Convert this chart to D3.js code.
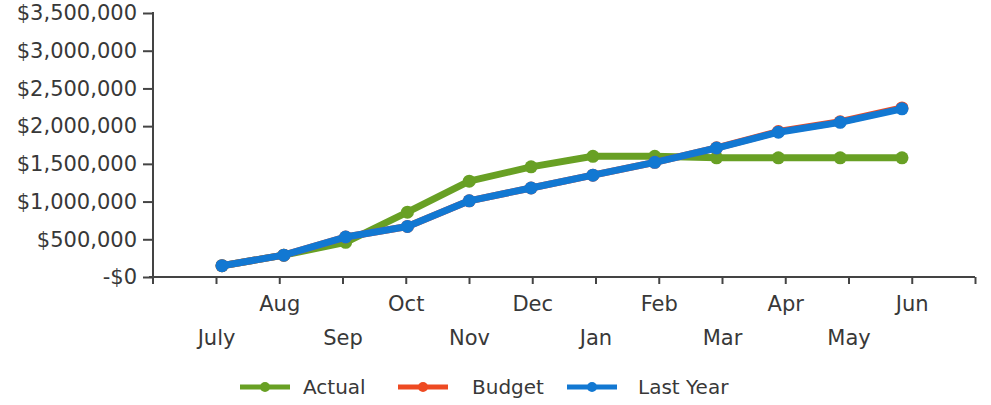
<!DOCTYPE html>
<html>
<head>
<meta charset="utf-8">
<script src="https://cdn.jsdelivr.net/npm/d3@7"></script>
<style>
  html, body { margin: 0; padding: 0; background: #fff; }
  svg { display: block; font-family: "DejaVu Sans", Verdana, sans-serif; }
</style>
</head>
<body>
<div id="chart"></div>
<script>
// Data
const months = ['July', 'Aug', 'Sep', 'Oct', 'Nov', 'Dec', 'Jan', 'Feb', 'Mar', 'Apr', 'May', 'Jun'];
const actual = [150000, 290000, 460000, 860000, 1270000, 1460000, 1600000, 1600000, 1580000, 1580000, 1580000, 1580000];
const budget = [150000, 290000, 530000, 670000, 1010000, 1180000, 1350000, 1520000, 1712000, 1928000, 2058000, 2242000];
const lastYear = [150000, 290000, 530000, 670000, 1010000, 1180000, 1350000, 1520000, 1710000, 1920000, 2050000, 2230000];
const yTicks = [0, 500000, 1000000, 1500000, 2000000, 2500000, 3000000, 3500000];

const series = [
    { name: 'Actual', values: actual, color: '#68a024' },
    { name: 'Budget', values: budget, color: '#ee4a22' },
    { name: 'Last Year', values: lastYear, color: '#1278d2' }
];

const width = 991, height = 405;
const plotLeft = 153, plotRight = 975, plotTop = 13, plotBottom = 277;
const textColor = '#383838';
const axisColor = '#444';
const fontSize = '21px';

const svg = d3.select('#chart').append('svg')
    .attr('width', width)
    .attr('height', height);

const y = d3.scaleLinear().domain([0, 3500000]).range([plotBottom, plotTop]);
// tick slots (one extra slot closes the axis at the right)
const xTick = d3.scalePoint().domain([...months, '']).range([216, plotRight]);
const xPoint = d3.scalePoint().domain(months).range([222, 902]);

// Y axis
const yAxis = d3.axisLeft(y)
    .tickValues(yTicks)
    .tickSize(10)
    .tickSizeOuter(0)
    .tickFormat(d => d === 0 ? '-$0' : '$' + d3.format(',')(d));

const gy = svg.append('g')
    .attr('transform', `translate(${plotLeft},0)`)
    .call(yAxis);
gy.select('.domain').remove();
gy.selectAll('.tick line').attr('stroke', axisColor).attr('stroke-width', 2);
gy.selectAll('.tick text')
    .attr('x', -16)
    .attr('fill', textColor)
    .attr('font-size', fontSize)
    .attr('font-family', '"DejaVu Sans", Verdana, sans-serif');
svg.append('line')
    .attr('x1', plotLeft).attr('x2', plotLeft)
    .attr('y1', plotTop - 1).attr('y2', plotBottom + 7)
    .attr('stroke', axisColor).attr('stroke-width', 2);

// X axis
const xAxis = d3.axisBottom(xTick).tickSize(7).tickSizeOuter(0);
const gx = svg.append('g')
    .attr('transform', `translate(0,${plotBottom})`)
    .call(xAxis);
gx.select('.domain').remove();
gx.selectAll('.tick line').attr('stroke', axisColor).attr('stroke-width', 2);
gx.selectAll('.tick text')
    .attr('fill', textColor)
    .attr('font-size', fontSize)
    .attr('font-family', '"DejaVu Sans", Verdana, sans-serif')
    .attr('dy', null)
    .attr('y', (d, i) => i % 2 === 1 ? 34 : 68);
svg.append('line')
    .attr('x1', plotLeft - 4).attr('x2', plotRight)
    .attr('y1', plotBottom).attr('y2', plotBottom)
    .attr('stroke', axisColor).attr('stroke-width', 2);

// Lines (Budget sits under Last Year)
const line = d3.line()
    .x((d, i) => xPoint(months[i]))
    .y(d => y(d));

series.forEach(s => {
    const g = svg.append('g');
    g.append('path')
        .datum(s.values)
        .attr('fill', 'none')
        .attr('stroke', s.color)
        .attr('stroke-width', 7)
        .attr('stroke-linejoin', 'round')
        .attr('d', line);
    g.selectAll('circle')
        .data(s.values)
        .join('circle')
        .attr('cx', (d, i) => xPoint(months[i]))
        .attr('cy', d => y(d))
        .attr('r', 6.5)
        .attr('fill', s.color);
});

// Legend
const legendX = [240, 398, 567];
const legendTextX = [303, 472, 638];
const legendY = 387;
const legend = svg.append('g');
series.forEach((s, i) => {
    const g = legend.append('g').attr('transform', `translate(${legendX[i]},${legendY})`);
    g.append('line')
        .attr('x1', 0).attr('x2', 50)
        .attr('stroke', s.color)
        .attr('stroke-width', 5);
    g.append('circle').attr('cx', 25).attr('r', 5).attr('fill', s.color);
    g.append('text')
        .attr('x', legendTextX[i] - legendX[i])
        .attr('dy', '0.35em')
        .attr('fill', textColor)
        .attr('font-size', '20px')
        .text(s.name);
});
</script>
</body>
</html>
